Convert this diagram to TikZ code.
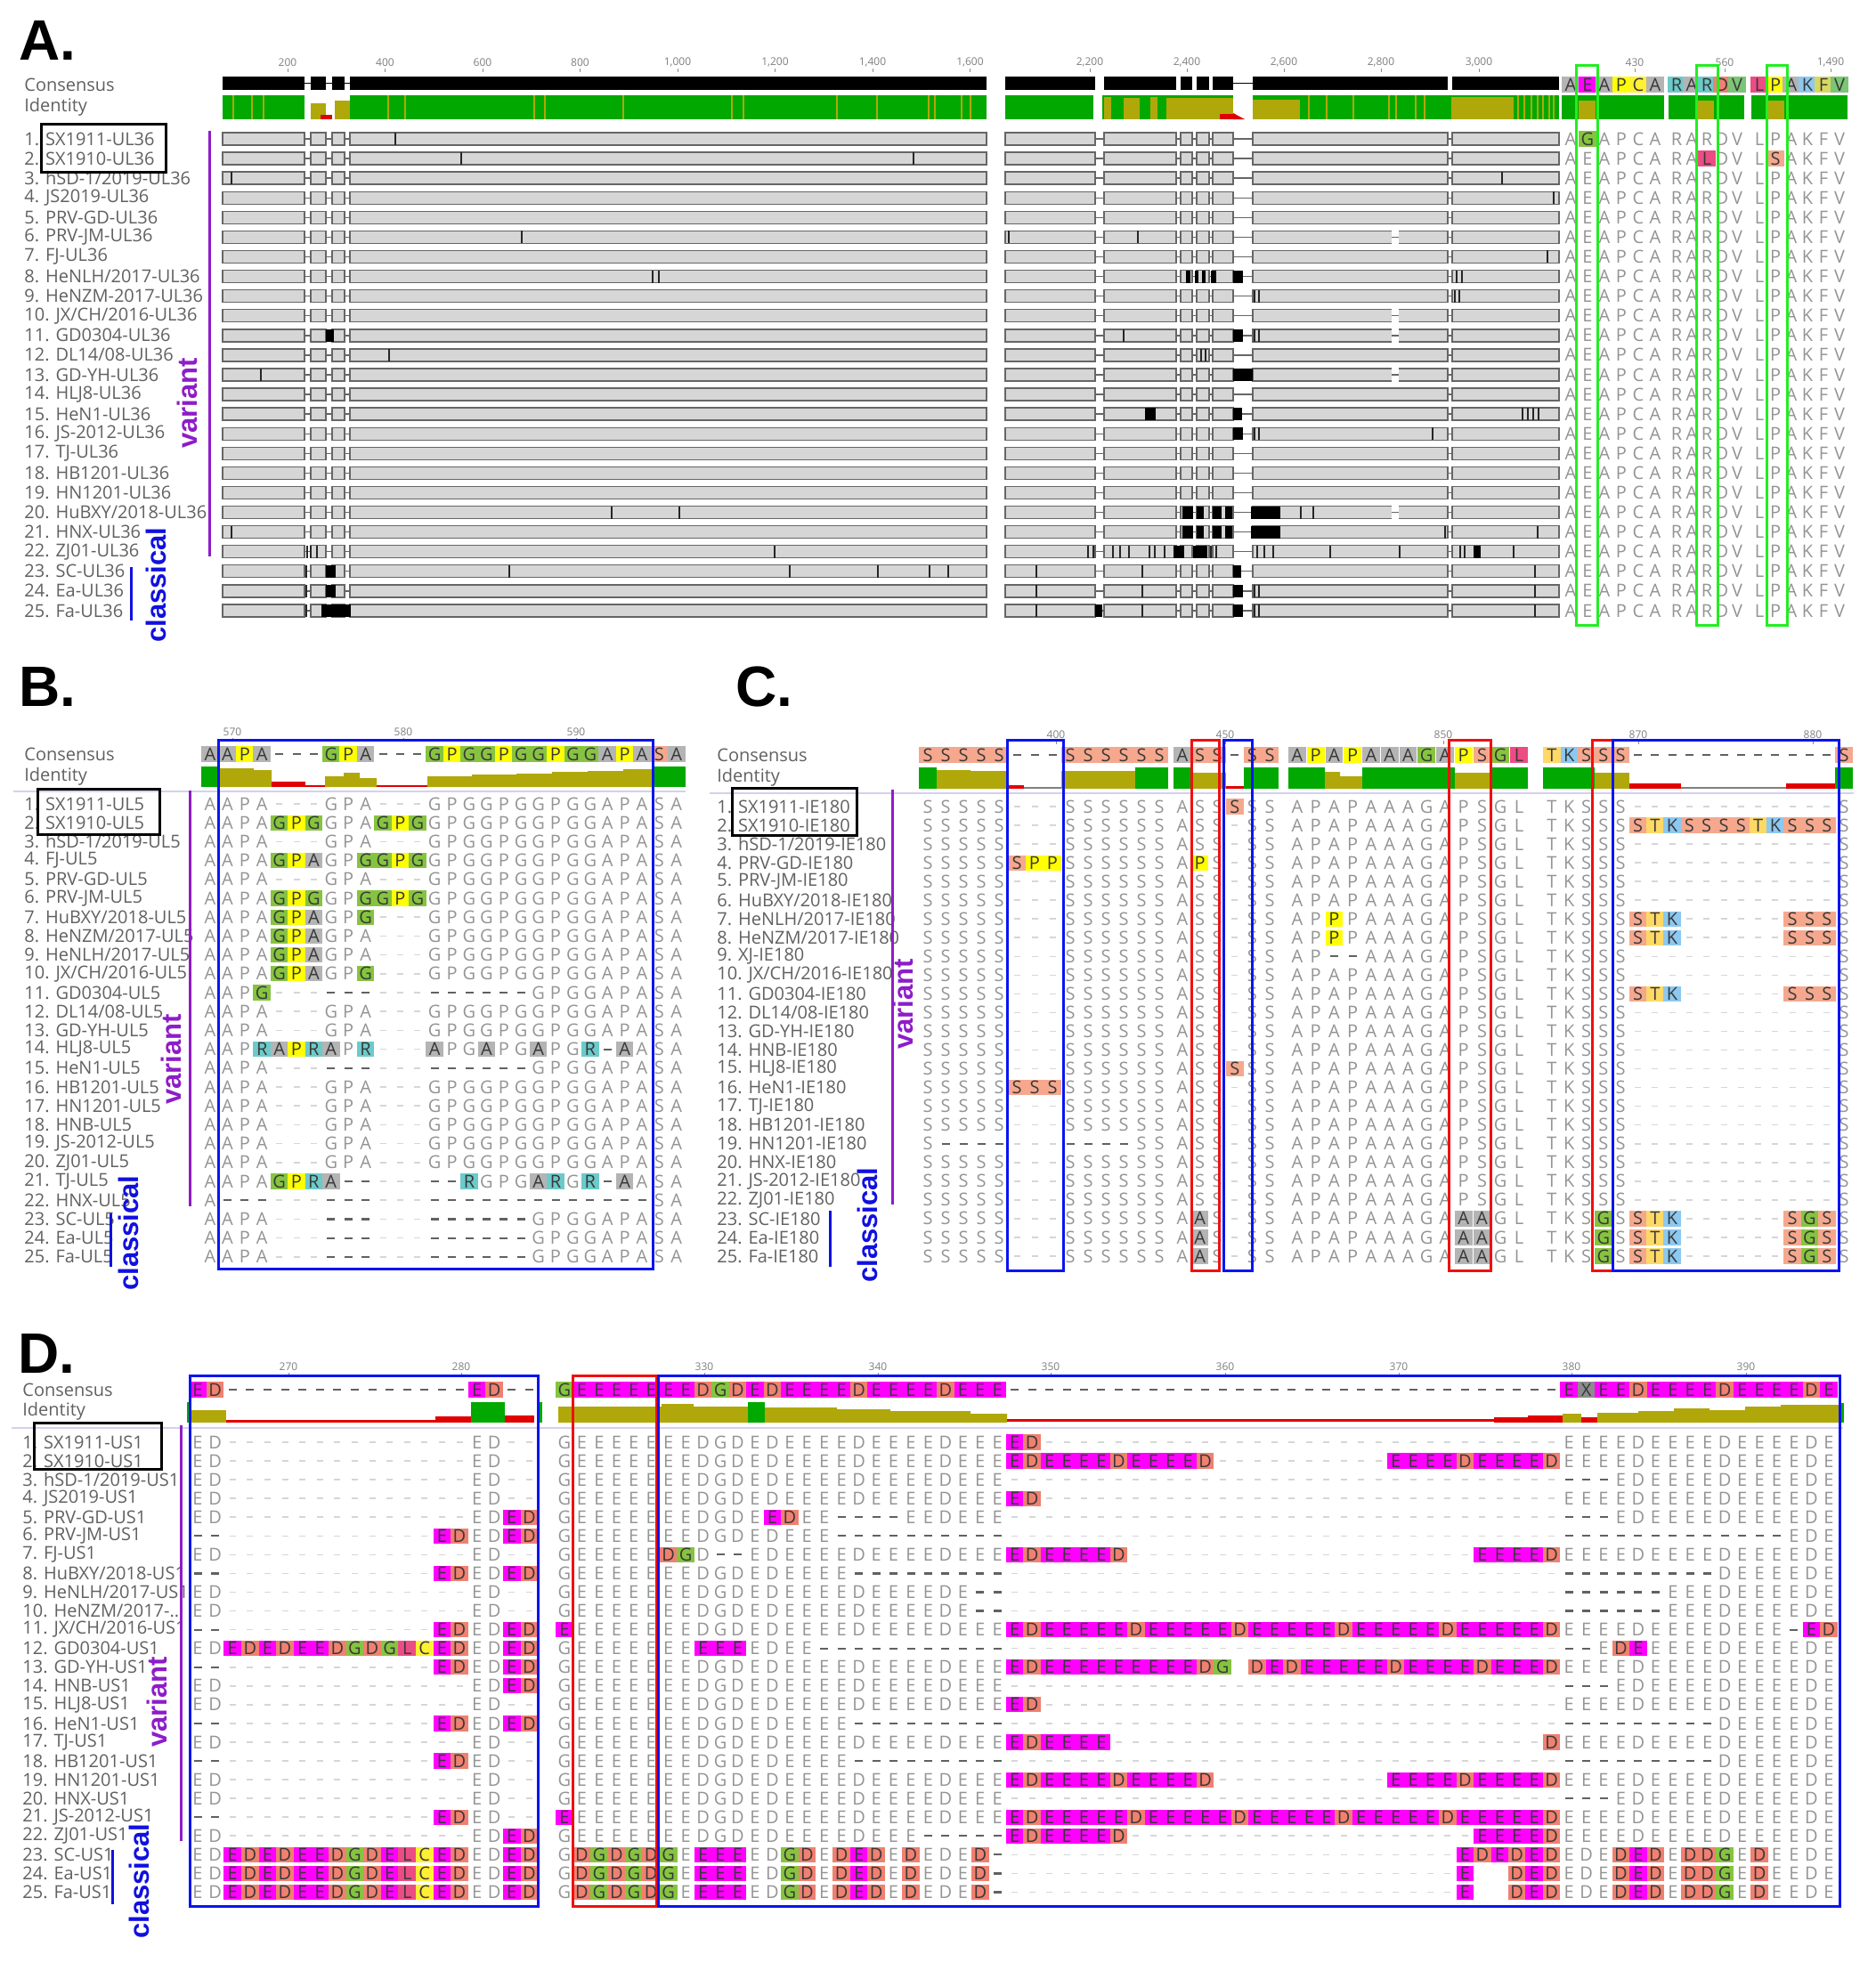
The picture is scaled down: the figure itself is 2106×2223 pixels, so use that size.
\documentclass[tikz,border=0pt]{standalone}
\usepackage{fontspec}
\setmainfont{Open Sans}
\newfontfamily\panelfont{Liberation Sans}

\definecolor{hle}{HTML}{FF00FF}
\definecolor{hld}{HTML}{F08070}
\definecolor{hlg}{HTML}{86C440}
\definecolor{hlp}{HTML}{FFFF00}
\definecolor{hla}{HTML}{B4B4B4}
\definecolor{hls}{HTML}{F5A88E}
\definecolor{hlt}{HTML}{FFD966}
\definecolor{hlk}{HTML}{8CC8F0}
\definecolor{hlr}{HTML}{6CCACA}
\definecolor{hll}{HTML}{EC4C84}
\definecolor{hlc}{HTML}{FFF033}
\definecolor{hlv}{HTML}{7CC576}
\definecolor{hlf}{HTML}{D8D860}
\definecolor{hlx}{HTML}{8C8C8C}
\definecolor{idgreen}{HTML}{00A800}
\definecolor{idolive}{HTML}{B0A80A}
\definecolor{idred}{HTML}{E00000}
\definecolor{varpurple}{HTML}{8E1CC8}
\definecolor{clblue}{HTML}{1010E0}
\definecolor{boxblue}{HTML}{0A14F0}
\definecolor{boxred}{HTML}{F01010}
\definecolor{boxgreen}{HTML}{22EE22}
\definecolor{lavender}{HTML}{D4D0F0}
\definecolor{trkgray}{HTML}{D6D6D6}

\tikzset{
  res/.style={font=\fontsize{10}{12}\selectfont, text=black!42, inner sep=0pt, text height=7.1pt, text depth=0pt},
  hl/.style={font=\fontsize{10}{12}\selectfont, text=black!78, inner sep=0pt, minimum width=9.8pt, minimum height=8.6pt, text height=7.1pt, text depth=0pt},
  gapd/.style={draw=black!62, line width=1.1pt},
  gapl/.style={draw=black!16, line width=0.8pt},
  lab/.style={font=\fontsize{10}{12}\selectfont, text=black!62, anchor=west, inner sep=0pt},
  tick/.style={font=\fontsize{6}{7}\selectfont, text=black!50, inner sep=0pt},
  panel/.style={font=\panelfont\bfseries\fontsize{32}{32}\selectfont, anchor=base west, inner sep=0pt},
  grp/.style={font=\panelfont\bfseries\fontsize{15.5}{16}\selectfont, rotate=90, inner sep=0pt},
  namebox/.style={draw=black, line width=1.5pt},
  bluebox/.style={draw=boxblue, line width=1.5pt},
  redbox/.style={draw=boxred, line width=1.5pt},
  greenbox/.style={draw=boxgreen, line width=1.5pt},
  trk/.style={fill=trkgray, draw=black!60, line width=0.7pt},
  trkline/.style={draw=black!60, line width=0.7pt},
  tmk/.style={draw=black!85, line width=0.7pt},
}

\makeatletter
\newdimen\sq@x
\newcommand\seqrow[4]{%
  \sq@x=#1pt\relax
  \def\sq@dx{#2pt}%
  \pgfmathsetmacro\sq@y{#3}%
  \edef\sq@str{#4}%
  \expandafter\sq@parse\sq@str\relax}
\def\sq@parse#1{%
  \ifx#1\relax\expandafter\@gobble\else\expandafter\@firstofone\fi
  {\sq@char{#1}\advance\sq@x by \sq@dx\relax\sq@parse}}
\def\sq@char#1{%
  \edef\sq@xv{\strip@pt\sq@x}%
  \if#1-\draw[gapd] (\sq@xv-4.5,\sq@y) -- (\sq@xv+4.5,\sq@y);%
  \else\if#1.\draw[gapl] (\sq@xv-3.5,\sq@y) -- (\sq@xv+3.5,\sq@y);%
  \else\if#1_\relax
  \else\ifnum`#1>96 \node[hl,fill=hl#1] at (\sq@xv,\sq@y) {\uppercase{#1}};%
  \else\node[res] at (\sq@xv,\sq@y) {#1};%
  \fi\fi\fi\fi}
\makeatother

\newcommand\trackA[1]{%
  \pgfmathsetmacro\trky{156+(#1-1)*22.08}
  \draw[trkline] (250,\trky) -- (1108,\trky) (1129,\trky) -- (1751,\trky);
  \foreach \a/\b in {250/342,349/366,373/387,393/1108,1129/1230,1240/1321,1326/1339,1344/1358,1362/1385,1407/1626,1631/1751}
    {\draw[trk] (\a,\trky-7) rectangle (\b,\trky+7);}}
\newcommand\tmk[2]{\draw[tmk] ({#2},{149+(#1-1)*22.08}) -- ++(0,14);}
\newcommand\tbk[3]{\fill[black] ({#2},{149+(#1-1)*22.08}) rectangle ({#3},{163+(#1-1)*22.08});}
\newcommand\tsp[1]{\fill[white] (1563,{147+(#1-1)*22.08}) rectangle (1571,{165+(#1-1)*22.08});
  \draw[trkline] (1563,{156+(#1-1)*22.08}) -- (1571,{156+(#1-1)*22.08});}
\newcommand\tck[3]{\node[tick] at (#1,#2) {#3}; \draw[black!45] (#1,#2+7) -- (#1,#2+11);}

\def\dfive{.....}
\def\dten{\dfive\dfive}
\def\hten{----------}

\def\bA{AAPA...GPA...GPGGPGGPGGAPASA}
\def\bB{AAPAgpgGPAgpgGPGGPGGPGGAPASA}
\def\bC{AAPAgpaGPggpgGPGGPGGPGGAPASA}
\def\bD{AAPAgpgGPggpgGPGGPGGPGGAPASA}
\def\bE{AAPAgpaGPg...GPGGPGGPGGAPASA}
\def\bF{AAPAgpaGPA...GPGGPGGPGGAPASA}
\def\bG{AAPg...---...------GPGGAPASA}
\def\bH{AAPrapraPr...aPGaPGaPGr-aASA}
\def\bI{AAPA...---...------GPGGAPASA}
\def\bJ{AAPAgpra--...--rGPGarGr-aASA}
\def\bK{A---...---...-------------SA}

\def\cAa{SSSSS...SSSSSS}
\def\cAb{SSSSSsppSSSSSS}
\def\cAc{SSSSSsssSSSSSS}
\def\cAd{S----...----SS}
\def\cBa{ASS.SS}
\def\cBb{ASSsSS}
\def\cBc{ApS.SS}
\def\cBd{AaS.SS}
\def\cCa{APAPAAAGAPSGL}
\def\cCb{APpPAAAGAPSGL}
\def\cCc{AP--AAAGAPSGL}
\def\cCd{APAPAAAGAaaGL}
\def\cDa{TKSSS\dten..S}
\def\cDb{TKSSSstksssstksssS}
\def\cDc{TKSSSstk......sssS}
\def\cDd{TKSgSstk......sgsS}

\def\dgA{ED\dten....ED..}
\def\dgB{ED\dten....EDed}
\def\dgC{--\dten..edEDed}
\def\dgD{--\dten..edED..}
\def\dgL{EDededeedgdglcedEDed}
\def\dgW{EDededeedgdelcedEDed}
\def\dbA{GEEEEEEEDGDEDEEEEDEEEEDEEE}
\def\dbE{GEEEEEEEDGDEedEE----EEDEEE}
\def\dbF{GEEEEEEEDGDEDEEE----------}
\def\dbG{GEEEEEdgD--EDEEEEDEEEEDEEE}
\def\dbH{GEEEEEEEDGDEDEEEE---------}
\def\dbI{GEEEEEEEDGDEDEEEEDEEEEDE--}
\def\dbK{eEEEEEEEDGDEDEEEEDEEEEDEEE}
\def\dbL{GEEEEEEEeeeEDEE-----------}
\def\dbV{GEEEEEEEDGDEDEEEEDEEE-----}
\def\dbW{GdgdgdgEeeeEDgdEdedEdEDEd-}
\def\dmA{\dten\dten\dten..}
\def\dmB{ed\dten\dten\dten}
\def\dmC{edeeeedeeeed\dten eeeedeeeed}
\def\dmD{edeeeeedeeeeedeeeeedeeeeedeeeeed}
\def\dmE{edeeeed\dten\dten eeeed}
\def\dmF{edeeeeeeeeedg_dedeeeeedeeeedeeed}
\def\dmG{edeeee\dten\dten\dfive d}
\def\dmH{\dten\dten\dfive.ededed}
\def\dmI{\dten\dten\dfive.e__ded}
\def\dtA{EEEEDEEEEDEEEEDE}
\def\dtB{---EDEEEEDEEEEDE}
\def\dtC{-------------EDE}
\def\dtD{---------DEEEEDE}
\def\dtE{------EEEDEEEEDE}
\def\dtF{EEEEDEEEEDEEE-ed}
\def\dtG{--EdeEEEEDEEEEDE}
\def\dtH{EDEdedEddgEdEEDE}
\def\lbx{HeNZM/2017-...}

\begin{document}
\begin{tikzpicture}[x=0.5pt,y=-0.5pt]
\useasboundingbox (0,0) rectangle (2106,2223);
\fill[white] (0,0) rectangle (2106,2223);

% panel A
\node[panel] (pA) at (21,67) {A.};
\foreach \x/\t in {323/200,432.5/400,542/600,651.5/800,761/{1,000},870.5/{1,200},980/{1,400},1089.5/{1,600},1224/{2,200},1333/{2,400},1442/{2,600},1551/{2,800},1661/{3,000},1836/430,1937/560,2056/{1,490}}
  {\tck{\x}{70}{\t}}
\node[lab] (conA) at (27,95) {Consensus};
\node[lab] (idA) at (27,120) {Identity};
\foreach \a/\b in {250/342,349/366,373/387,393/1108,1129/1230,1240/1321,1326/1339,1344/1358,1362/1385,1407/1626,1631/1751}
  {\fill[black] (\a,86) rectangle (\b,101);}
\draw[black, line width=0.7pt] (342,93.5) -- (393,93.5) (1385,93.5) -- (1407,93.5);
\fill[idgreen] (250,107) rectangle (1108,134);
\foreach \x in {262,283,296,436,455,600,612,700,822,835,940,985,1043,1050,1080,1090}
  {\draw[idolive, line width=0.6pt] (\x,107) -- (\x,134);}
\fill[white] (342,105) rectangle (393,134);
\fill[idolive] (349,116) rectangle (366,134);
\fill[idolive] (376,113) rectangle (393,134);
\fill[idred] (360,129) rectangle (373,134);
\fill[idgreen] (1129,107) rectangle (1751,134);
\fill[white] (1228,105) rectangle (1238,134);
\fill[idolive] (1240,109) rectangle (1248,134);
\fill[idolive] (1262,110) rectangle (1280,134);
\fill[idolive] (1292,109) rectangle (1300,134);
\fill[idolive] (1310,110) rectangle (1385,134);
\fill[idred] (1370,128) rectangle (1385,134);
\fill[white] (1385,105) rectangle (1407,134);
\fill[idred] (1385,127) -- (1398,134) -- (1385,134) -- cycle;
\fill[idolive] (1407,112) rectangle (1460,134);
\foreach \x in {1470,1490,1520,1560,1568,1590,1600,1705,1712,1720,1727,1733,1740,1745}
  {\draw[idolive, line width=0.7pt] (\x,107) -- (\x,134);}
\fill[idolive] (1630,109) rectangle (1700,134);
\seqrow{1764}{19}{95}{aeapca}
\seqrow{1883}{17}{95}{rardv}
\seqrow{1976}{18}{95}{lpakfv}
\fill[idgreen] (1754,107) rectangle (1869,134);
\fill[idgreen] (1874,107) rectangle (1959,134);
\fill[idgreen] (1967,107) rectangle (2075,134);
\fill[idolive] (1773,113) rectangle (1792,134);
\fill[idolive] (1907,113) rectangle (1925,134);
\fill[idolive] (1986,113) rectangle (2004,134);

\foreach \n [count=\i] in {SX1911-UL36,SX1910-UL36,hSD-1/2019-UL36,JS2019-UL36,PRV-GD-UL36,PRV-JM-UL36,FJ-UL36,HeNLH/2017-UL36,HeNZM-2017-UL36,JX/CH/2016-UL36,GD0304-UL36,DL14/08-UL36,GD-YH-UL36,HLJ8-UL36,HeN1-UL36,JS-2012-UL36,TJ-UL36,HB1201-UL36,HN1201-UL36,HuBXY/2018-UL36,HNX-UL36,ZJ01-UL36,SC-UL36,Ea-UL36,Fa-UL36}
  {\node[lab] (lA\i) at (27,{156+(\i-1)*22.08}) {\i. \n};}
\draw[namebox] (46,139) rectangle (186,193);

\foreach \i in {1,...,25}{\trackA{\i}}
\foreach \r/\x in {1/444,2/518,2/1026,3/260,3/1687,4/1745,6/586,6/1133,6/1278,7/1738,8/733,8/740,8/1636,8/1642,9/1409,9/1414,9/1634,9/1639,11/1262,11/1409,11/1414,12/437,12/1349,12/1354,13/293,15/1710,15/1716,15/1722,15/1728,16/1409,16/1414,16/1609,20/687,20/763,20/1461,20/1475,21/260,21/1623,21/1727,22/870,22/345,22/349,22/356,22/1222,22/1228,22/1250,22/1258,22/1268,22/1291,22/1297,22/1308,22/1352,22/1360,22/1366,22/1412,22/1420,22/1430,22/1494,22/1572,22/1640,22/1645,22/1700,23/344,23/572,23/887,23/986,23/1044,23/1065,23/1164,23/1283,23/1724,24/344,24/1164,24/1283,24/1724,24/1409,24/1414,25/344,25/1164,25/1283,25/1724,25/1409,25/1414}
  {\tmk{\r}{\x}}
\foreach \r/\a/\b in {8/1332/1337,8/1342/1346,8/1350/1354,8/1360/1366,8/1385/1396,11/366/375,11/1385/1396,13/1385/1407,15/1286/1298,15/1385/1395,16/1385/1396,20/1328/1340,20/1344/1352,20/1362/1372,20/1376/1384,20/1405/1438,21/1328/1340,21/1344/1352,21/1362/1372,21/1376/1384,21/1405/1438,22/1318/1330,22/1340/1356,22/1655/1663,23/366/377,23/1385/1394,24/366/377,24/1385/1396,25/361/394,25/1230/1238,25/1385/1396}
  {\tbk{\r}{\a}{\b}}
\foreach \r in {6,10,11,13,20}{\tsp{\r}}

\foreach \i in {1,...,25}{
  \pgfmathsetmacro\ry{156+(\i-1)*22.08}
  \def\grA{AEAPCA}\def\grB{RARDV}\def\grC{LPAKFV}
  \ifnum\i=1 \def\grA{AgAPCA}\fi
  \ifnum\i=2 \def\grB{RAlDV}\def\grC{LsAKFV}\fi
  \seqrow{1764}{19}{\ry}{\grA}
  \seqrow{1883}{17}{\ry}{\grB}
  \seqrow{1976}{18}{\ry}{\grC}
}
\draw[greenbox] (1770,73) rectangle (1794,702);
\draw[greenbox] (1905,73) rectangle (1929,702);
\draw[greenbox] (1984,73) rectangle (2007,702);
\draw[varpurple, line width=1.5pt] (235,147) -- (235,625);
\node[grp, text=varpurple] (vA) at (210,453) {variant};
\draw[clblue, line width=1.5pt] (147,637) -- (147,697);
\node[grp, text=clblue] (cA) at (175,657) {classical};

% panel B
\node[panel] (pB) at (21,793) {B.};
\tck{261}{822}{570}
\tck{453}{822}{580}
\tck{647}{822}{590}
\node[lab] (conB) at (27,847) {Consensus};
\node[lab] (idB) at (27,872) {Identity};
\seqrow{236}{19.4}{847}{aapa---gpa---gpggpggpggapasa}
\fill[idgreen] (226,861) rectangle (245,884);
\fill[idolive] (245,884) -- (245,863) -| (285,865) -| (305,884) -- cycle;
\fill[idred] (305,878) rectangle (343,884);
\fill[idred] (343,882) rectangle (365,884);
\fill[idolive] (365,884) -- (365,872) -| (386,868) -| (404,874) -| (423,884) -- cycle;
\fill[idred] (423,882) rectangle (480,884);
\fill[idolive] (480,884) -- (480,872) -| (530,870) -| (580,869) -| (620,867) -| (660,866) -| (700,864) -| (733,884) -- cycle;
\fill[idgreen] (733,861) rectangle (770,884);
\draw[lavender, line width=0.8pt] (15,889) -- (770,889);
\foreach \n [count=\i] in {SX1911-UL5,SX1910-UL5,hSD-1/2019-UL5,FJ-UL5,PRV-GD-UL5,PRV-JM-UL5,HuBXY/2018-UL5,HeNZM/2017-UL5,HeNLH/2017-UL5,JX/CH/2016-UL5,GD0304-UL5,DL14/08-UL5,GD-YH-UL5,HLJ8-UL5,HeN1-UL5,HB1201-UL5,HN1201-UL5,HNB-UL5,JS-2012-UL5,ZJ01-UL5,TJ-UL5,HNX-UL5,SC-UL5,Ea-UL5,Fa-UL5}
  {\node[lab] (lB\i) at (27,{903+(\i-1)*21.2}) {\i. \n};}
\draw[namebox] (42,886) rectangle (179,937);
\foreach \i/\sqa in {1/\bA,2/\bB,3/\bA,4/\bC,5/\bA,6/\bD,7/\bE,8/\bF,9/\bF,10/\bE,11/\bG,12/\bA,13/\bA,14/\bH,15/\bI,16/\bA,17/\bA,18/\bA,19/\bA,20/\bA,21/\bJ,22/\bK,23/\bI,24/\bI,25/\bI}{
  \pgfmathsetmacro\ry{903+(\i-1)*21.2}
  \seqrow{236}{19.4}{\ry}{\sqa}
}
\draw[bluebox] (245,831) rectangle (733,1425);
\draw[varpurple, line width=1.5pt] (213,888) -- (213,1355);
\node[grp, text=varpurple] (vB) at (192,1190) {variant};
\draw[clblue, line width=1.5pt] (124,1363) -- (124,1423);
\node[grp, text=clblue] (cB) at (144,1385) {classical};

% panel C
\node[panel] (pC) at (826,793) {C.};
\tck{1186}{825}{400}
\tck{1376}{825}{450}
\tck{1621}{825}{850}
\tck{1840}{825}{870}
\tck{2036}{825}{880}
\node[lab] (conC) at (805,848) {Consensus};
\node[lab] (idC) at (805,873) {Identity};
\seqrow{1042}{20}{848}{sssss---ssssss}
\seqrow{1328}{19.6}{848}{ass-ss}
\seqrow{1457}{20.75}{848}{apapaaagapsgl}
\seqrow{1743}{19.3}{848}{tksss------------s}
\fill[idgreen] (1032,862) rectangle (1052,886);
\fill[idolive] (1052,886) -- (1052,865) -| (1090,866) -| (1131,886) -- cycle;
\fill[idred] (1131,882) rectangle (1150,886);
\draw[black!50, line width=0.6pt] (1150,885) -- (1192,885);
\fill[idolive] (1192,886) -- (1192,866) -| (1275,886) -- cycle;
\fill[idgreen] (1275,862) rectangle (1312,886);
\fill[idgreen] (1318,862) rectangle (1338,886);
\fill[idolive] (1338,868) rectangle (1377,886);
\fill[idred] (1377,883) rectangle (1397,886);
\fill[idgreen] (1397,862) rectangle (1436,886);
\fill[idgreen] (1447,862) rectangle (1488,886);
\fill[idolive] (1488,886) -- (1488,867) -| (1505,872) -| (1530,886) -- cycle;
\fill[idgreen] (1530,862) rectangle (1634,886);
\fill[idolive] (1634,868) rectangle (1675,886);
\fill[idgreen] (1675,862) rectangle (1716,886);
\fill[idgreen] (1733,862) rectangle (1791,886);
\fill[idolive] (1791,868) rectangle (1830,886);
\fill[idred] (1830,880) rectangle (1888,886);
\draw[black!50, line width=0.6pt] (1888,885) -- (2006,885);
\fill[idred] (2006,880) rectangle (2061,886);
\fill[idgreen] (2061,862) rectangle (2081,886);
\draw[lavender, line width=0.8pt] (797,891) -- (2082,891);
\foreach \n [count=\i] in {SX1911-IE180,SX1910-IE180,hSD-1/2019-IE180,PRV-GD-IE180,PRV-JM-IE180,HuBXY/2018-IE180,HeNLH/2017-IE180,HeNZM/2017-IE180,XJ-IE180,JX/CH/2016-IE180,GD0304-IE180,DL14/08-IE180,GD-YH-IE180,HNB-IE180,HLJ8-IE180,HeN1-IE180,TJ-IE180,HB1201-IE180,HN1201-IE180,HNX-IE180,JS-2012-IE180,ZJ01-IE180,SC-IE180,Ea-IE180,Fa-IE180}
  {\node[lab] (lC\i) at (805,{906+(\i-1)*21.04}) {\i. \n};}
\draw[namebox] (822,885) rectangle (962,938);
\foreach \i in {1,...,25}{
  \def\sA{\cAa}\def\sB{\cBa}\def\sC{\cCa}\def\sD{\cDa}
  \ifnum\i=1 \def\sB{\cBb}\fi
  \ifnum\i=2 \def\sD{\cDb}\fi
  \ifnum\i=4 \def\sA{\cAb}\def\sB{\cBc}\fi
  \ifnum\i=7 \def\sC{\cCb}\def\sD{\cDc}\fi
  \ifnum\i=8 \def\sC{\cCb}\def\sD{\cDc}\fi
  \ifnum\i=9 \def\sC{\cCc}\fi
  \ifnum\i=11 \def\sD{\cDc}\fi
  \ifnum\i=15 \def\sB{\cBb}\fi
  \ifnum\i=16 \def\sA{\cAc}\fi
  \ifnum\i=19 \def\sA{\cAd}\fi
  \ifnum\i>22 \def\sB{\cBd}\def\sC{\cCd}\def\sD{\cDd}\fi
  \pgfmathsetmacro\ry{906+(\i-1)*21.04}
  \seqrow{1042}{20}{\ry}{\sA}
  \seqrow{1328}{19.6}{\ry}{\sB}
  \seqrow{1457}{20.75}{\ry}{\sC}
  \seqrow{1743}{19.3}{\ry}{\sD}
}
\draw[bluebox] (1131,831) rectangle (1194,1427);
\draw[redbox] (1338,831) rectangle (1369,1427);
\draw[bluebox] (1374,831) rectangle (1406,1427);
\draw[redbox] (1627,831) rectangle (1674,1427);
\draw[redbox] (1788,831) rectangle (1811,1427);
\draw[bluebox] (1811,831) rectangle (2065,1427);
\draw[varpurple, line width=1.5pt] (1002,887) -- (1002,1353);
\node[grp, text=varpurple] (vC) at (1014,1128) {variant};
\draw[clblue, line width=1.5pt] (932,1360) -- (932,1423);
\node[grp, text=clblue] (cC) at (974,1376) {classical};

% panel D
\node[panel] (pD) at (20,1542) {D.};
\foreach \x/\t in {324/270,518/280,791/330,986/340,1180/350,1376/360,1571/370,1765/380,1961/390}
  {\tck{\x}{1535}{\t}}
\node[lab] (conD) at (25,1561) {Consensus};
\node[lab] (idD) at (25,1585) {Identity};
\seqrow{222}{19.6}{1561}{ed--------------ed--}
\seqrow{634}{19.45}{1561}{geeeeeeedgdedeeeedeeeedeee\hten\hten\hten--exeedeeeedeeeede}
\fill[idgreen] (210,1575) rectangle (214,1598);
\fill[idolive] (214,1584) rectangle (254,1598);
\fill[idred] (254,1595) rectangle (489,1598);
\fill[idred] (489,1591) rectangle (529,1598);
\fill[idgreen] (529,1575) rectangle (567,1598);
\fill[idred] (567,1590) rectangle (600,1598);
\fill[idgreen] (605,1575) rectangle (609,1598);
\fill[idolive] (627,1598) -- (627,1580) -| (743,1577) -| (779,1580) -| (840,1581) -| (940,1583) -| (1000,1585) -| (1090,1588) -| (1131,1598) -- cycle;
\fill[idgreen] (840,1575) rectangle (859,1598);
\fill[idred] (1131,1594) rectangle (1678,1597);
\fill[idred] (1678,1592) rectangle (1716,1598);
\fill[idred] (1716,1590) rectangle (1755,1598);
\fill[idolive] (1755,1588) rectangle (1776,1598);
\fill[idred] (1776,1592) rectangle (1794,1598);
\fill[idolive] (1794,1598) -- (1794,1587) -| (1840,1585) -| (1880,1582) -| (1920,1584) -| (1960,1580) -| (2000,1578) -| (2066,1598) -- cycle;
\fill[idgreen] (2066,1576) rectangle (2071,1598);
\draw[lavender, line width=0.8pt] (13,1604) -- (2070,1604);
\foreach \n [count=\i] in {SX1911-US1,SX1910-US1,hSD-1/2019-US1,JS2019-US1,PRV-GD-US1,PRV-JM-US1,FJ-US1,HuBXY/2018-US1,HeNLH/2017-US1,\lbx,JX/CH/2016-US1,GD0304-US1,GD-YH-US1,HNB-US1,HLJ8-US1,HeN1-US1,TJ-US1,HB1201-US1,HN1201-US1,HNX-US1,JS-2012-US1,ZJ01-US1,SC-US1,Ea-US1,Fa-US1}
  {\node[lab] (lD\i) at (25,{1620+(\i-1)*21.06}) {\i. \n};}
\draw[namebox] (38,1598) rectangle (181,1650);
\foreach \i/\sqa/\sqb in {1/\dgA/\dbA\dmB\dtA,2/\dgA/\dbA\dmC\dtA,3/\dgA/\dbA\dmA\dtB,4/\dgA/\dbA\dmB\dtA,5/\dgB/\dbE\dmA\dtB,6/\dgC/\dbF\dmA\dtC,7/\dgA/\dbG\dmE\dtA,8/\dgC/\dbH\dmA\dtD,9/\dgA/\dbI\dmA\dtE,10/\dgA/\dbI\dmA\dtE,11/\dgC/\dbK\dmD\dtF,12/\dgL/\dbL\dmA\dtG,13/\dgC/\dbA\dmF\dtA,14/\dgB/\dbA\dmA\dtB,15/\dgA/\dbA\dmB\dtA,16/\dgC/\dbH\dmA\dtD,17/\dgA/\dbA\dmG\dtA,18/\dgD/\dbH\dmA\dtD,19/\dgA/\dbA\dmC\dtA,20/\dgA/\dbA\dmA\dtB,21/\dgD/\dbK\dmD\dtA,22/\dgB/\dbV\dmE\dtA,23/\dgW/\dbW\dmH\dtH,24/\dgW/\dbW\dmI\dtH,25/\dgW/\dbW\dmI\dtH}{
  \pgfmathsetmacro\ry{1620+(\i-1)*21.06}
  \seqrow{222}{19.6}{\ry}{\sqa}
  \seqrow{634}{19.45}{\ry}{\sqb}
}
\draw[bluebox] (213,1545) rectangle (604,2141);
\draw[redbox] (643,1545) rectangle (737,2141);
\draw[bluebox] (739,1545) rectangle (2066,2141);
\draw[varpurple, line width=1.5pt] (203,1601) -- (203,2068);
\node[grp, text=varpurple] (vD) at (176,1912) {variant};
\draw[clblue, line width=1.5pt] (126,2078) -- (126,2139);
\node[grp, text=clblue] (cD) at (156,2113) {classical};
\end{tikzpicture}
\end{document}
